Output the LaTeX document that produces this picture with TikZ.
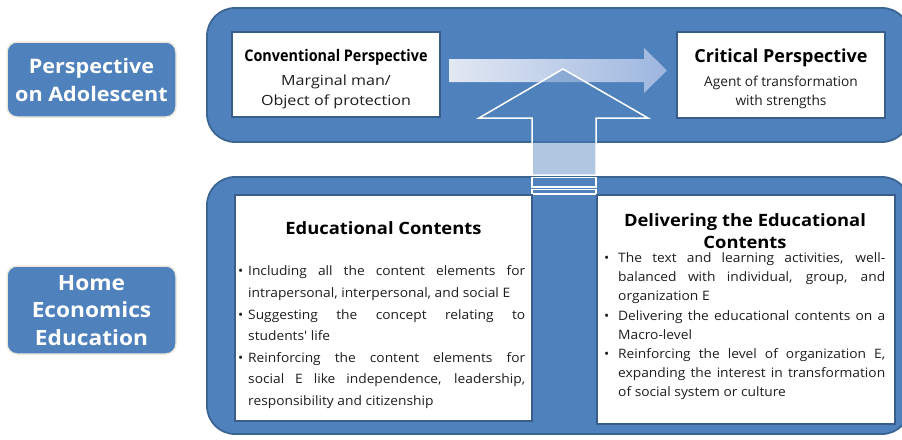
\documentclass[tikz,border=0pt]{standalone}
\usepackage{fontspec}
\setmainfont{Open Sans}
\newfontfamily\condfont[FakeStretch=0.90]{Open Sans}
\newfontfamily\headfont[FakeStretch=1.08]{Open Sans}
\newfontfamily\cardfont[FakeStretch=1.15]{Open Sans}
\newfontfamily\listfont[FakeStretch=1.06]{Open Sans}
\usetikzlibrary{positioning}
\definecolor{boxblue}{HTML}{4F81BD}
\definecolor{boxedge}{HTML}{3B6593}
\definecolor{cardedge}{HTML}{3A5E8C}
\definecolor{glowbeige}{HTML}{ECEADF}
\definecolor{paleblue}{HTML}{E2E8F3}
\definecolor{lightblue}{HTML}{9DB6DF}
\definecolor{bodytext}{HTML}{1E1E1E}
\newcommand{\hebullet}[2]{\par\hangindent=#1\hangafter=1\noindent\makebox[#1][l]{\textbullet}#2\par}
\tikzset{
  sidelabel/.style={rounded corners=10pt,fill=boxblue,draw=glowbeige,line width=1.5pt},
  sidetext/.style={text=white,font=\headfont\fontsize{20}{28}\selectfont\bfseries,align=center},
  bigbox/.style={rounded corners=28pt,fill=boxblue,draw=boxedge,line width=1.8pt},
  card/.style={fill=white,draw=cardedge,line width=2pt},
  bodylist/.style={inner sep=0pt,text width=#1,align=justify,text=bodytext},
}

\begin{document}
\begin{tikzpicture}[x=1pt,y=1pt,yscale=-1,xscale=1]
\path[use as bounding box] (0,0) rectangle (902,439);

%Shape: Rounded Rect [id:top]
\draw [bigbox] (207,8) rectangle (910,142);
%Shape: Rounded Rect [id:bottom]
\draw [bigbox] (207,177) rectangle (910,434);

% Side labels
\draw [sidelabel] (7,42) rectangle (176,117) ;
\draw (91.5,79.5) node (persp) [sidetext] {Perspective\\on Adolescent};
\draw [sidelabel] (7,266) rectangle (176,354) ;
\draw (91.5,310.5) node (hee) [sidetext,font=\headfont\fontsize{21}{27.5}\selectfont\bfseries] {Home\\Economics\\Education};

%Shape: Rectangle [id:conv]
\draw [card] (232,32) rectangle (440,117) ;
\draw (336,57) node (convtitle) [font=\condfont\fontsize{16}{18}\selectfont\bfseries] {Conventional Perspective};
\draw (336,91.5) node (convtext) [align=center,font=\cardfont\fontsize{14}{20}\selectfont,text=bodytext] {Marginal man/\\Object of protection};

%Shape: Rectangle [id:crit]
\draw [card] (677,32) rectangle (885,118) ;
\draw (781,57.5) node (crittitle) [font=\fontsize{18}{20}\selectfont\bfseries] {Critical Perspective};
\draw (781,92.5) node (crittext) [align=center,font=\fontsize{13.7}{19.5}\selectfont,text=bodytext] {Agent of transformation\\with strengths};

%Shape: Right Arrow [id:shift]
\shade [left color=paleblue,right color=lightblue] (449,59) -- (644,59) -- (644,48) -- (667,70.5) -- (644,93) -- (644,82) -- (449,82) -- cycle ;

%Shape: Up Arrow [id:raise]
\draw [draw=white,line width=1.5pt,fill=boxblue,fill opacity=0.45] (532,175) -- (532,118) -- (479,118) -- (563,69) -- (648,118) -- (596,118) -- (596,175) -- cycle ;
\draw [draw=white,line width=1.5pt,fill=boxblue] (532,177.5) rectangle (596,187) ;
\draw [draw=white,line width=1.2pt,fill=boxblue] (532,189.5) rectangle (596,194) ;

%Shape: Rectangle [id:educ]
\draw [card] (235,195) rectangle (532,421) ;
\draw (383.5,228) node (eductitle) [font=\headfont\fontsize{17}{18}\selectfont\bfseries] {Educational Contents};
\draw (238,254) node (educlist) [anchor=north west,bodylist=287pt,font=\listfont\fontsize{13}{21.6}\selectfont] {\hyphenpenalty=10000
\hebullet{10pt}{Including all the content elements for\linebreak intrapersonal, interpersonal, and social E}%
\hebullet{10pt}{Suggesting the concept relating to\linebreak students' life}%
\hebullet{10pt}{Reinforcing the content elements for\linebreak social E like independence, leadership,\linebreak responsibility and citizenship}};

%Shape: Rectangle [id:deliv]
\draw [card] (597,195) rectangle (895,424) ;
\draw (745,231) node (delivtitle) [align=center,font=\headfont\fontsize{17}{22}\selectfont\bfseries] {Delivering the Educational\\Contents};
\draw (604,243) node (delivlist) [anchor=north west,bodylist=281pt,font=\listfont\fontsize{13}{19.2}\selectfont] {\hyphenpenalty=10000
\hebullet{14pt}{The text and learning activities, well-\linebreak{}balanced with individual, group, and\linebreak organization E}%
\hebullet{14pt}{Delivering the educational contents on a\linebreak Macro-level}%
\hebullet{14pt}{Reinforcing the level of organization E,\linebreak expanding the interest in transformation\linebreak of social system or culture}};

\end{tikzpicture}
\end{document}
